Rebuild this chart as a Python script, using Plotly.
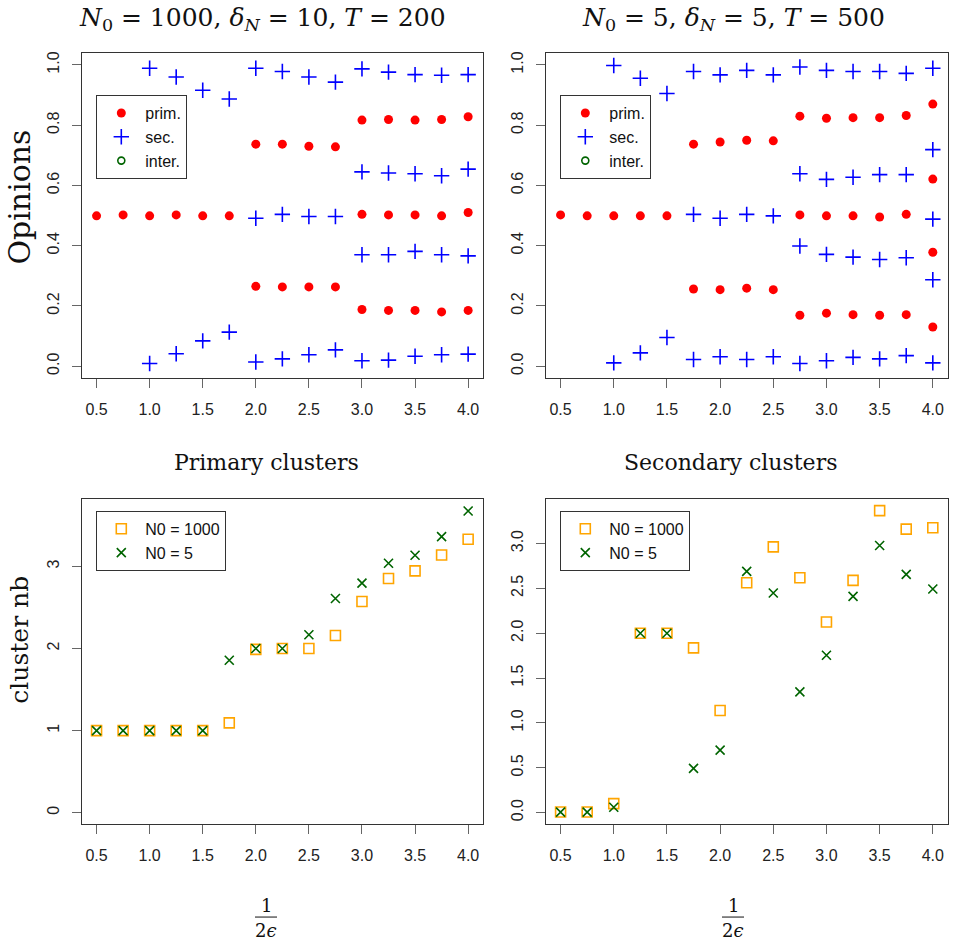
import plotly.graph_objects as go

X = [0.5, 0.75, 1.0, 1.25, 1.5, 1.75, 2.0, 2.25, 2.5, 2.75, 3.0, 3.25, 3.5, 3.75, 4.0]

# Top-left: N0=1000, deltaN=10, T=200 (opinion clusters per x value)
prim_A = [[0.499], [0.502], [0.499], [0.502], [0.499], [0.499],
          [0.737, 0.265], [0.737, 0.263], [0.730, 0.263], [0.728, 0.263],
          [0.817, 0.504, 0.188], [0.819, 0.502, 0.185], [0.817, 0.502, 0.185],
          [0.819, 0.499, 0.180], [0.828, 0.510, 0.185]]
sec_A = [[], [], [0.989, 0.009], [0.960, 0.041], [0.916, 0.084], [0.887, 0.113],
         [0.989, 0.491, 0.014], [0.978, 0.504, 0.024], [0.960, 0.497, 0.038],
         [0.943, 0.497, 0.054], [0.987, 0.645, 0.370, 0.018],
         [0.976, 0.641, 0.370, 0.020], [0.968, 0.639, 0.381, 0.033],
         [0.966, 0.632, 0.370, 0.038], [0.968, 0.654, 0.366, 0.040]]
inter_A = [[] for _ in X]  # no intermediate clusters

# Top-right: N0=5, deltaN=5, T=500
prim_B = [[0.502], [0.499], [0.499], [0.499], [0.499],
          [0.737, 0.256], [0.744, 0.254], [0.750, 0.259], [0.748, 0.254],
          [0.830, 0.502, 0.169], [0.823, 0.499, 0.176], [0.825, 0.499, 0.171],
          [0.825, 0.495, 0.169], [0.832, 0.504, 0.171],
          [0.870, 0.621, 0.378, 0.130]]
sec_B = [[], [], [0.998, 0.011], [0.956, 0.044], [0.905, 0.095],
         [0.978, 0.504, 0.022], [0.967, 0.491, 0.031], [0.982, 0.504, 0.022],
         [0.967, 0.499, 0.031], [0.993, 0.639, 0.399, 0.009],
         [0.982, 0.620, 0.371, 0.018], [0.978, 0.627, 0.362, 0.029],
         [0.978, 0.636, 0.354, 0.024], [0.972, 0.636, 0.360, 0.035],
         [0.989, 0.719, 0.488, 0.287, 0.011]]
inter_B = [[] for _ in X]  # no intermediate clusters

# Bottom: number of clusters
prim_1000 = [1, 1, 1, 1, 1, 1.094, 1.99, 2.0, 2.0, 2.16, 2.574, 2.854, 2.947, 3.141, 3.332]
prim_5 = [1, 1, 1, 1, 1, 1.857, 2.0, 2.0, 2.169, 2.610, 2.797, 3.040, 3.137, 3.364, 3.677]
sec_1000 = [0.007, 0.007, 0.10, 2.0, 2.0, 1.836, 1.139, 2.563, 2.963, 2.618, 2.125, 2.589, 3.367, 3.160, 3.175]
sec_5 = [0.005, 0.005, 0.059, 2.0, 2.0, 0.493, 0.697, 2.689, 2.448, 1.346, 1.754, 2.411, 2.978, 2.656, 2.493]

X_TICKS = [0.5, 1.0, 1.5, 2.0, 2.5, 3.0, 3.5, 4.0]


def flatten(groups):
    xs, ys = [], []
    for x, g in zip(X, groups):
        for v in g:
            xs.append(x)
            ys.append(v)
    if not xs:  # keep an (undrawn) placeholder so the legend entry is kept
        xs, ys = [None], [None]
    return xs, ys


RED, BLUE, GREEN, ORANGE = "#ff0000", "#0000ff", "#006400", "#ffa500"

fig = go.Figure()

def add_top(prim, sec, inter, xa, ya, leg):
    px, py = flatten(prim)
    sx, sy = flatten(sec)
    ix, iy = flatten(inter)
    fig.add_trace(go.Scatter(x=px, y=py, mode="markers", name="prim.", xaxis=xa, yaxis=ya,
                             legend=leg, marker=dict(symbol="circle", size=9, color=RED)))
    fig.add_trace(go.Scatter(x=sx, y=sy, mode="markers", name="sec.", xaxis=xa, yaxis=ya,
                             legend=leg, marker=dict(symbol="cross-thin", size=11, color=BLUE,
                                                     line=dict(color=BLUE, width=1.6))))
    fig.add_trace(go.Scatter(x=ix, y=iy, mode="markers", name="inter.", xaxis=xa, yaxis=ya,
                             legend=leg, marker=dict(symbol="circle-open", size=7, color=GREEN,
                                                     line=dict(color=GREEN, width=1.6))))

def add_bottom(a, b, xa, ya, leg):
    fig.add_trace(go.Scatter(x=X, y=a, mode="markers", name="N0 = 1000", xaxis=xa, yaxis=ya,
                             legend=leg, marker=dict(symbol="square-open", size=10, color=ORANGE,
                                                     line=dict(color=ORANGE, width=1.6))))
    fig.add_trace(go.Scatter(x=X, y=b, mode="markers", name="N0 = 5", xaxis=xa, yaxis=ya,
                             legend=leg, marker=dict(symbol="x-thin", size=9, color=GREEN,
                                                     line=dict(color=GREEN, width=1.6))))

add_top(prim_A, sec_A, inter_A, "x", "y", "legend")
add_top(prim_B, sec_B, inter_B, "x2", "y2", "legend2")
add_bottom(prim_1000, prim_5, "x3", "y3", "legend3")
add_bottom(sec_1000, sec_5, "x4", "y4", "legend4")

W, H = 954, 941
def px_x(v):
    return v / W
def px_y(v):
    return 1 - v / H

tick_font = dict(family="Liberation Sans, Arial, sans-serif", size=16, color="#222")

def xaxis(domain, anchor):
    return dict(domain=domain, anchor=anchor, range=[0.36, 4.14], tickvals=X_TICKS,
                ticktext=[f"{v:.1f}" for v in X_TICKS], ticks="outside", ticklen=9,
                tickcolor="#666", tickwidth=1, showline=True, linecolor="#333", linewidth=1,
                mirror=True, showgrid=False, zeroline=False, tickfont=tick_font,
                ticklabelstandoff=8)

def yaxis(domain, anchor, rng, vals, fmt):
    return dict(domain=domain, anchor=anchor, range=rng, tickvals=vals,
                ticktext=[fmt.format(v) for v in vals], ticks="outside", ticklen=9,
                tickcolor="#666", tickwidth=1, showline=True, linecolor="#333", linewidth=1,
                mirror=True, showgrid=False, zeroline=False, tickfont=tick_font,
                tickangle=-90, ticklabelstandoff=6)

xdL = [px_x(81.7), px_x(483)]
xdR = [px_x(545.7), px_x(947.7)]
ydT = [px_y(377), px_y(51)]
ydB = [px_y(824), px_y(498)]

top_vals = [0.0, 0.2, 0.4, 0.6, 0.8, 1.0]

legend_common = dict(bgcolor="white", bordercolor="#333", borderwidth=1,
                     font=dict(family="Liberation Sans, Arial, sans-serif", size=16, color="#111"),
                     xanchor="left", yanchor="top", itemclick=False, tracegroupgap=0,
                     itemwidth=38)

fig.update_layout(
    width=W, height=H, autosize=False, margin=dict(l=0, r=0, t=0, b=0),
    paper_bgcolor="white", plot_bgcolor="white",
    xaxis=xaxis(xdL, "y"), yaxis=yaxis(ydT, "x", [-0.04, 1.04], top_vals, "{:.1f}"),
    xaxis2=xaxis(xdR, "y2"), yaxis2=yaxis(ydT, "x2", [-0.04, 1.04], top_vals, "{:.1f}"),
    xaxis3=xaxis(xdL, "y3"), yaxis3=yaxis(ydB, "x3", [-0.142, 3.824], [0, 1, 2, 3], "{:d}"),
    xaxis4=xaxis(xdR, "y4"), yaxis4=yaxis(ydB, "x4", [-0.130, 3.497], [0.0, 0.5, 1.0, 1.5, 2.0, 2.5, 3.0], "{:.1f}"),
    legend=dict(x=px_x(96.3), y=px_y(93.3), **legend_common),
    legend2=dict(x=px_x(560.3), y=px_y(93.3), **legend_common),
    legend3=dict(x=px_x(96.3), y=px_y(510), **legend_common),
    legend4=dict(x=px_x(560.3), y=px_y(510), **legend_common),
)

serif = "DejaVu Serif, Liberation Serif, serif"
annots = [
    dict(text="<i>N</i><sub>0</sub> = 1000, <i>δ</i><sub><i>N</i></sub> = 10, <i>T</i> = 200",
         x=px_x(262), y=px_y(17), size=25),
    dict(text="<i>N</i><sub>0</sub> = 5, <i>δ</i><sub><i>N</i></sub> = 5, <i>T</i> = 500",
         x=px_x(733), y=px_y(17), size=25),
    dict(text="Primary clusters", x=px_x(266), y=px_y(461), size=22),
    dict(text="Secondary clusters", x=px_x(730), y=px_y(461), size=22),
    dict(text="1", x=px_x(266), y=px_y(905), size=18),
    dict(text="2<i>ϵ</i>", x=px_x(266), y=px_y(930), size=18),
    dict(text="1", x=px_x(733), y=px_y(905), size=18),
    dict(text="2<i>ϵ</i>", x=px_x(733), y=px_y(930), size=18),
]
for a in annots:
    fig.add_annotation(text=a["text"], x=a["x"], y=a["y"], xref="paper", yref="paper",
                       xanchor="center", yanchor="middle", showarrow=False,
                       font=dict(family=serif, size=a["size"], color="#111"))

for txt, yc, fs in [("Opinions", 196, 30), ("cluster nb", 639, 25)]:
    fig.add_annotation(text=txt, x=px_x(20), y=px_y(yc), xref="paper", yref="paper",
                       xanchor="center", yanchor="middle", showarrow=False, textangle=-90,
                       font=dict(family=serif, size=fs, color="#111"))

for xc in (266, 733):
    fig.add_shape(type="line", xref="paper", yref="paper", x0=px_x(xc - 11), x1=px_x(xc + 11),
                  y0=px_y(917), y1=px_y(917), line=dict(color="#111", width=1))

fig.write_html("out.html")
